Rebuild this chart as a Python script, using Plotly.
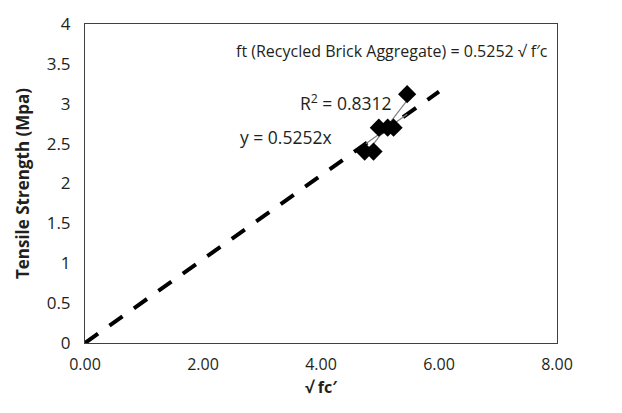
import numpy as np
import plotly.graph_objects as go

# Measured splitting tensile strength vs square root of compressive strength
sqrt_fc = [4.74, 4.89, 4.98, 5.13, 5.23, 5.46]
tensile_mpa = [2.40, 2.40, 2.70, 2.70, 2.70, 3.12]

# Proposed relation ft = k * sqrt(f'c), drawn over the range 0..6
k_slope = 0.5252
line_x = [0.0, 6.0]
line_y = [k_slope * v for v in line_x]

x_ticks = [0, 2, 4, 6, 8]
y_ticks = [0, 0.5, 1, 1.5, 2, 2.5, 3, 3.5, 4]

# Ordinary least-squares fit (with intercept) over the data range
b1, b0 = np.polyfit(sqrt_fc, tensile_mpa, 1)
fit_x = [min(sqrt_fc), max(sqrt_fc)]
fit_y = [b0 + b1 * v for v in fit_x]

FONT = "Open Sans"
INK = "#231f20"

fig = go.Figure()

fig.add_trace(go.Scatter(
    x=line_x, y=line_y, mode="lines",
    line=dict(color="black", width=4, dash="16px,14px"),
    hoverinfo="skip", showlegend=False,
))
fig.add_trace(go.Scatter(
    x=fit_x, y=[k_slope * v for v in fit_x], mode="lines",
    line=dict(color="#7f7f7f", width=1.2),
    hoverinfo="skip", showlegend=False,
))
fig.add_trace(go.Scatter(
    x=fit_x, y=fit_y, mode="lines",
    line=dict(color="#7f7f7f", width=1.2),
    hoverinfo="skip", showlegend=False,
))
fig.add_trace(go.Scatter(
    x=sqrt_fc, y=tensile_mpa, mode="markers",
    marker=dict(symbol="diamond", size=14, color="black"),
    showlegend=False,
))

fig.add_annotation(x=5.2, y=3.66, xref="x", yref="y", showarrow=False,
                   text="ft (Recycled Brick Aggregate) = 0.5252 √ f′c",
                   font=dict(family=FONT, size=16, color=INK))
fig.add_annotation(x=4.42, y=3.02, xref="x", yref="y", showarrow=False,
                   text="R<sup>2</sup> = 0.8312",
                   font=dict(family=FONT, size=17.5, color=INK))
fig.add_annotation(x=3.41, y=2.58, xref="x", yref="y", showarrow=False,
                   text="y = 0.5252x",
                   font=dict(family=FONT, size=17.5, color=INK))

fig.update_layout(
    width=622, height=413,
    margin=dict(l=85, r=65, t=17, b=70),
    paper_bgcolor="white", plot_bgcolor="white",
    font=dict(family=FONT, size=16, color=INK),
    xaxis=dict(
        range=[0, 8], tickvals=x_ticks, tickformat=".2f",
        showgrid=False, zeroline=False, ticks="",
        tickfont=dict(family=FONT, size=16, color=INK),
        ticklabelstandoff=7,
        showline=True, mirror=True, linecolor="#404040", linewidth=1,
        title=dict(text="<b>√ fc′</b>", font=dict(family=FONT, size=16, color=INK), standoff=7),
    ),
    yaxis=dict(
        range=[0, 4], tickvals=y_ticks,
        showgrid=False, zeroline=False, ticks="",
        tickfont=dict(family=FONT, size=17, color=INK),
        ticklabelstandoff=10,
        showline=True, mirror=True, linecolor="#404040", linewidth=1,
        title=dict(text="<b>Tensile Strength (Mpa)</b>", font=dict(family=FONT, size=17, color=INK), standoff=12),
    ),
)

fig.write_html("out.html")
